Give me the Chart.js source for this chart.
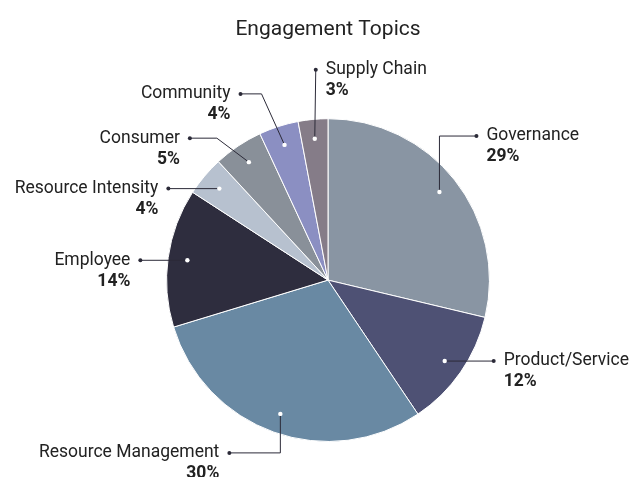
<!DOCTYPE html>
<html>
<head>
<meta charset="utf-8">
<title>Engagement Topics</title>
<script src="https://cdn.jsdelivr.net/npm/chart.js@4"></script>
<style>
    html, body { margin: 0; padding: 0; background: #fff; }
    #wrap { width: 631px; height: 477px; position: relative; }
</style>
</head>
<body>
<div id="wrap"><canvas id="topicsChart"></canvas></div>
<script>
const topics = ['Governance', 'Product/Service', 'Resource Management', 'Employee',
    'Resource Intensity', 'Consumer', 'Community', 'Supply Chain'];
const shares = [29, 12, 30, 14, 4, 5, 4, 3];
const sliceColors = ['#8995a3', '#4e5174', '#6989a3', '#2e2d3e',
    '#b7c1cf', '#899099', '#8b8fc2', '#857c88'];

// leader line bends, relative to the dot inside each slice
const leaderPaths = [
    [[0, -56], [37, -56]],
    [[49, 0]],
    [[0, 39], [-51, 39]],
    [[-47, 0]],
    [[-51, 0]],
    [[-32, -24], [-59, -24]],
    [[-23, -51], [-44, -51]],
    [[1, -69]]
];

const inkColor = '#2b2a38';

const leaderLabels = {
    id: 'leaderLabels',
    afterDatasetsDraw(chart) {
        const ctx = chart.ctx;
        const arcs = chart.getDatasetMeta(0).data;
        ctx.save();
        arcs.forEach(function(arc, i) {
            const p = arc.getProps(['x', 'y', 'startAngle', 'endAngle', 'outerRadius'], true);
            const mid = (p.startAngle + p.endAngle) / 2;
            const r = p.outerRadius * 0.88;
            const x0 = p.x + Math.cos(mid) * r;
            const y0 = p.y + Math.sin(mid) * r;

            const path = leaderPaths[i];
            ctx.strokeStyle = inkColor;
            ctx.lineWidth = 1;
            ctx.beginPath();
            ctx.moveTo(x0, y0);
            path.forEach(function(pt) {
                ctx.lineTo(x0 + pt[0], y0 + pt[1]);
            });
            ctx.stroke();

            const last = path[path.length - 1];
            const ex = x0 + last[0];
            const ey = y0 + last[1];

            ctx.fillStyle = inkColor;
            ctx.beginPath();
            ctx.arc(ex, ey, 2, 0, Math.PI * 2);
            ctx.fill();

            ctx.fillStyle = '#ffffff';
            ctx.beginPath();
            ctx.arc(x0, y0, 2.2, 0, Math.PI * 2);
            ctx.fill();

            const right = last[0] >= 0;
            const tx = right ? ex + 10 : ex - 10;
            ctx.textAlign = right ? 'left' : 'right';
            ctx.textBaseline = 'middle';
            ctx.fillStyle = '#222222';
            ctx.font = '17.5px Roboto';
            ctx.fillText(topics[i], tx, ey);
            ctx.font = 'bold 17.5px Roboto';
            ctx.fillText(shares[i] + '%', tx, ey + 21);
        });
        ctx.restore();
    }
};

const ctx = document.getElementById('topicsChart').getContext('2d');
new Chart(ctx, {
    type: 'pie',
    data: {
        labels: topics,
        datasets: [{
            data: shares,
            backgroundColor: sliceColors,
            borderColor: '#ffffff',
            borderWidth: 1
        }]
    },
    options: {
        responsive: true,
        maintainAspectRatio: false,
        animation: false,
        devicePixelRatio: 1,
        layout: {
            padding: { top: 0, bottom: 35, left: 40, right: 15 }
        },
        plugins: {
            legend: { display: false },
            tooltip: { enabled: false },
            title: {
                display: true,
                text: 'Engagement Topics',
                color: '#222222',
                font: { family: 'Roboto', size: 21, weight: 'normal' },
                padding: { top: 17, bottom: 76 }
            }
        }
    },
    plugins: [leaderLabels]
});
</script>
</body>
</html>
